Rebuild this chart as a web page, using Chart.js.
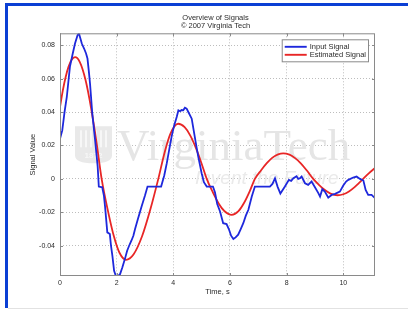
<!DOCTYPE html>
<html>
<head>
<meta charset="utf-8">
<script src="https://cdn.jsdelivr.net/npm/chart.js@4.4.1/dist/chart.umd.min.js"></script>
<style>
  html, body { margin: 0; padding: 0; background: #fff; }
  #wrap { position: relative; width: 408px; height: 310px; overflow: hidden; background: #fff; }
  #signalChart { position: absolute; left: 0; top: 0; }
  .frameTop { position: absolute; left: 5px; top: 3px; width: 403px; height: 3px; background: #0b3fd4; }
  .frameLeft { position: absolute; left: 5px; top: 3px; width: 3px; height: 305px; background: #0b3fd4; }
  .frameBottom { position: absolute; left: 8px; top: 308px; width: 400px; height: 1px; background: #e2e2e2; }
</style>
</head>
<body>
<div id="wrap">
  <canvas id="signalChart" width="408" height="310"></canvas>
  <div class="frameTop"></div>
  <div class="frameLeft"></div>
  <div class="frameBottom"></div>
</div>
<script>
// values
const titleLines = ["Overview of Signals", "\u00a9 2007 Virginia Tech"];
const seriesNames = ["Input Signal", "Estimated Signal"];
const xTicks = [0, 2, 4, 6, 8, 10];
const yTicks = [-0.04, -0.02, 0, 0.02, 0.04, 0.06, 0.08];

const blueTime = [
  0.00, 0.08, 0.16, 0.24, 0.35, 0.45, 0.53, 0.62, 0.67, 0.72, 0.77, 0.85, 0.92, 0.97,
  1.02, 1.06, 1.14, 1.24, 1.33, 1.37, 1.49, 1.55, 1.59, 1.67, 1.76, 1.80, 1.85, 1.91,
  1.97, 2.05, 2.12, 2.20, 2.29, 2.37, 2.44, 2.52, 2.59, 2.65, 2.75, 2.88, 3.00, 3.09,
  3.57, 3.68, 3.77, 3.86, 3.94, 4.03, 4.12, 4.18, 4.24, 4.29, 4.35, 4.41, 4.47, 4.53,
  4.65, 4.70, 4.76, 4.82, 4.88, 5.00, 5.08, 5.18, 5.40, 5.47, 5.55, 5.65, 5.76, 5.88,
  5.96, 6.04, 6.12, 6.20, 6.29, 6.38, 6.47, 6.56, 6.65, 6.77, 6.88, 7.41, 7.50, 7.59,
  7.68, 7.78, 7.94, 8.08, 8.16, 8.24, 8.35, 8.41, 8.47, 8.53, 8.65, 8.76, 8.88, 9.00,
  9.12, 9.18, 9.26, 9.35, 9.47, 9.59, 9.71, 9.88, 10.00, 10.10, 10.18, 10.35, 10.47,
  10.59, 10.71, 10.79, 10.88, 11.00, 11.12
];
const blueValue = [
  0.024, 0.029, 0.040, 0.049, 0.067, 0.075, 0.081, 0.086, 0.087, 0.084, 0.081, 0.078, 0.075, 0.072,
  0.064, 0.057, 0.039, 0.023, 0.0073, -0.0046, -0.0050, -0.010, -0.0165, -0.032, -0.033, -0.040, -0.046, -0.055,
  -0.058, -0.058, -0.057, -0.053, -0.048, -0.043, -0.040, -0.037, -0.034, -0.030, -0.024, -0.0165, -0.010, -0.0046,
  -0.0046, 0.002, 0.0094, 0.018, 0.0253, 0.032, 0.037, 0.041, 0.0405, 0.0412, 0.041, 0.0426, 0.042, 0.040,
  0.036, 0.031, 0.025, 0.019, 0.0133, 0.0034, -0.002, -0.0046, -0.0046, -0.008, -0.015, -0.0195, -0.0265, -0.027,
  -0.030, -0.034, -0.036, -0.035, -0.0334, -0.030, -0.0265, -0.022, -0.0185, -0.0106, -0.0046, -0.0046, -0.003, 0.0004,
  -0.0046, -0.0088, -0.0046, -0.0006, -0.0012, 0.0004, 0.0016, 0.0000, 0.0004, 0.0014, -0.0026, -0.0036, -0.0016, -0.0050,
  -0.0085, -0.0106, -0.0062, -0.0076, -0.0112, -0.0096, -0.0090, -0.0076, -0.0040, -0.0016, -0.0006, 0.0008, 0.0014,
  0.0000, -0.0010, -0.0066, -0.0096, -0.0096, -0.0115
];

const redTime = [
  0, 0.1, 0.2, 0.3, 0.4, 0.53, 0.7, 0.9, 1.1, 1.3, 1.47, 1.7, 1.9, 2.1, 2.33, 2.6, 2.9, 3.2,
  3.47, 3.7, 3.9, 4.17, 4.4, 4.6, 4.8, 5.0, 5.18, 5.4, 5.6, 5.8, 6.06, 6.3, 6.5, 6.7, 6.88,
  7.1, 7.3, 7.5, 7.7, 7.88, 8.1, 8.3, 8.5, 8.7, 8.94, 9.15, 9.35, 9.55, 9.8, 10.0, 10.2,
  10.4, 10.55, 10.7, 10.9, 11.12
];
const redValue = [
  0.043, 0.053, 0.061, 0.067, 0.071, 0.0728, 0.0699, 0.0593, 0.0421, 0.0205, 0, -0.0197, -0.0342, -0.0442, -0.0484, -0.0451, -0.0342, -0.0176,
  0, 0.0163, 0.0271, 0.033, 0.0309, 0.0259, 0.0184, 0.0091, 0, -0.0082, -0.0147, -0.0192, -0.0215, -0.0193, -0.0143, -0.0073, 0,
  0.0052, 0.0094, 0.0127, 0.0147, 0.0153, 0.0145, 0.0124, 0.0093, 0.0053, 0, -0.0037, -0.0067, -0.0088, -0.0098, -0.0092, -0.0075,
  -0.0049, -0.0025, 0, 0.0033, 0.0065
];

const blueColor = "rgb(30,40,220)";
const redColor = "rgb(232,38,38)";
const textColor = "#2b2b2b";
const boxColor = "#8a8a8a";

Chart.defaults.font.family = '"Liberation Sans", Arial, Helvetica, sans-serif';
Chart.defaults.color = textColor;

// faint university watermark behind the curves
const watermark = {
  id: "watermark",
  beforeDatasetsDraw(chart) {
    const ctx = chart.ctx;
    const a = chart.chartArea;
    ctx.save();
    // shield
    const sx = a.left + 15, sy = a.top + 93, sw = 37, sh = 37;
    ctx.fillStyle = "#e9e9e9";
    ctx.beginPath();
    ctx.moveTo(sx, sy);
    ctx.lineTo(sx + sw, sy);
    ctx.lineTo(sx + sw, sy + sh - 8);
    ctx.quadraticCurveTo(sx + sw, sy + sh, sx + sw / 2, sy + sh);
    ctx.quadraticCurveTo(sx, sy + sh, sx, sy + sh - 8);
    ctx.closePath();
    ctx.fill();
    ctx.fillStyle = "#f7f7f7";
    for (let i = 0; i < 6; i++) {
      ctx.fillRect(sx + 5 + i * 5, sy + 4, 2, 17);
    }
    ctx.font = "bold 8px " + Chart.defaults.font.family;
    ctx.textAlign = "center";
    ctx.textBaseline = "middle";
    ctx.fillText("1872", sx + sw / 2, sy + 29);
    // wordmark
    ctx.fillStyle = "#e5e5e5";
    ctx.textAlign = "left";
    ctx.textBaseline = "alphabetic";
    ctx.font = '45px "Liberation Serif", "Times New Roman", serif';
    ctx.fillText("VirginiaTech", a.left + 57, a.top + 127);
    ctx.fillStyle = "#eaeaea";
    ctx.font = 'italic 19px "Liberation Sans", Arial, sans-serif';
    ctx.fillText("Invent the Future", a.left + 135, a.top + 151);
    ctx.restore();
  }
};

// MATLAB-like axes box with inward tick marks, title and legend
const axesDecor = {
  id: "axesDecor",
  afterDatasetsDraw(chart) {
    const ctx = chart.ctx;
    const a = chart.chartArea;
    const xs = chart.scales.x, ys = chart.scales.y;
    ctx.save();
    ctx.strokeStyle = boxColor;
    ctx.lineWidth = 1;
    ctx.strokeRect(a.left + 0.5, a.top + 0.5, a.right - a.left - 1, a.bottom - a.top - 1);
    ctx.beginPath();
    xTicks.forEach((v) => {
      const px = Math.round(xs.getPixelForValue(v)) + 0.5;
      ctx.moveTo(px, a.bottom); ctx.lineTo(px, a.bottom - 3);
      ctx.moveTo(px, a.top); ctx.lineTo(px, a.top + 3);
    });
    yTicks.forEach((v) => {
      const py = Math.round(ys.getPixelForValue(v)) + 0.5;
      ctx.moveTo(a.left, py); ctx.lineTo(a.left + 3, py);
      ctx.moveTo(a.right, py); ctx.lineTo(a.right - 3, py);
    });
    ctx.stroke();

    // title
    ctx.fillStyle = textColor;
    ctx.font = "7.5px " + Chart.defaults.font.family;
    ctx.textAlign = "center";
    ctx.textBaseline = "middle";
    const cx = (a.left + a.right) / 2 - 2;
    ctx.fillText(titleLines[0], cx, 17.5);
    ctx.fillText(titleLines[1], cx, 26);

    // legend
    ctx.textAlign = "left";
    const tw = Math.max(...seriesNames.map((s) => ctx.measureText(s).width));
    const lw = 30 + tw;
    const lx = a.right - 7 - lw, ly = a.top + 6, lh = 22;
    ctx.fillStyle = "#fff";
    ctx.fillRect(lx, ly, lw, lh);
    ctx.strokeStyle = boxColor;
    ctx.strokeRect(lx + 0.5, ly + 0.5, lw, lh);
    chart.data.datasets.forEach((ds, i) => {
      const ry = ly + 7.5 + i * 8;
      ctx.strokeStyle = ds.borderColor;
      ctx.lineWidth = 1.9;
      ctx.beginPath();
      ctx.moveTo(lx + 3, ry); ctx.lineTo(lx + 25, ry);
      ctx.stroke();
      ctx.fillStyle = textColor;
      ctx.fillText(ds.label, lx + 28, ry);
    });
    ctx.restore();
  }
};

new Chart(document.getElementById("signalChart"), {
  type: "line",
  data: {
    datasets: [
      {
        label: seriesNames[0],
        data: blueTime.map((t, i) => ({ x: t, y: blueValue[i] })),
        borderColor: blueColor,
        borderWidth: 1.8,
        pointRadius: 0,
        tension: 0,
      },
      {
        label: seriesNames[1],
        data: redTime.map((t, i) => ({ x: t, y: redValue[i] })),
        borderColor: redColor,
        borderWidth: 1.8,
        pointRadius: 0,
        cubicInterpolationMode: "monotone",
      },
    ],
  },
  options: {
    responsive: false,
    animation: false,
    devicePixelRatio: 1,
    layout: { padding: { left: 0, top: 33.3, right: 33, bottom: 0 } },
    plugins: {
      legend: { display: false },
      title: { display: false },
      tooltip: { enabled: false },
    },
    scales: {
      x: {
        type: "linear",
        min: 0,
        max: 11.12,
        afterBuildTicks: (scale) => { scale.ticks = xTicks.map((v) => ({ value: v })); },
        afterFit: (scale) => { scale.height = 34; },
        ticks: { font: { size: 7 }, padding: 3, maxRotation: 0, color: textColor },
        grid: { color: "#bdbdbd", drawTicks: false, lineWidth: 1 },
        border: { display: false, dash: [1, 2] },
        title: { display: true, text: "Time, s", font: { size: 7.5 }, padding: { top: 0, bottom: 13.5 }, color: textColor },
      },
      y: {
        min: -0.0581,
        max: 0.0871,
        afterBuildTicks: (scale) => { scale.ticks = yTicks.map((v) => ({ value: v })); },
        afterFit: (scale) => { scale.width = 60; },
        ticks: {
          font: { size: 7 },
          padding: 5,
          color: textColor,
          callback: (v) => (v === 0 ? "0" : v.toFixed(2)),
        },
        grid: { color: "#bdbdbd", drawTicks: false, lineWidth: 1 },
        border: { display: false, dash: [1, 2] },
        title: { display: true, text: "Signal Value", font: { size: 7.5 }, padding: { top: 28.5, bottom: 0 }, color: textColor },
      },
    },
  },
  plugins: [watermark, axesDecor],
});
</script>
</body>
</html>
